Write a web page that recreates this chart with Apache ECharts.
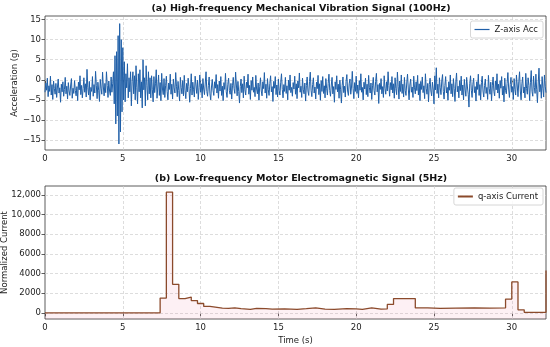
<!DOCTYPE html>
<html><head><meta charset="utf-8">
<script src="https://cdn.jsdelivr.net/npm/echarts@6/dist/echarts.min.js"></script>
<style>html,body{margin:0;padding:0;background:#fff}#c{width:550px;height:347px}</style>
</head><body><div id="c"></div>
<script>
const vibStep = 0.05;
const vibValues = [
-3.1,-0.8,-2.6,0.4,-4.2,-1.5,-2.9,0.9,-3.8,-1.2,-4.9,-0.3,-2.2,-3.6,-0.9,-4.4,-1.8,0.2,-3.3,-2.0,
-5.6,-1.1,-3.0,-0.5,-4.1,-2.4,0.6,-3.5,-1.6,-4.8,-0.7,-2.8,-3.9,-1.3,0.3,-4.6,-2.1,-3.4,-0.2,-2.7,
-4.0,-1.7,-5.2,-0.6,-2.5,1.0,-3.7,-1.4,-4.5,-2.2,0.5,-3.1,-1.0,-4.3,2.6,-2.0,-3.8,-0.4,-5.0,-1.9,
-2.9,0.8,-4.1,-1.2,-3.3,2.1,-1.5,-4.7,-0.6,-2.6,-5.4,0.1,-2.1,-3.6,1.9,-1.8,-4.0,-0.9,-3.2,2.0,
-1.4,-4.4,-0.3,-2.8,-3.9,0.7,-3.1,-1.0,2.0,-6.0,6.0,-11.0,7.0,-9.0,11.0,-16.0,14.0,-13.0,10.0,-8.0,
8.0,-5.0,4.5,-5.5,1.5,-2.0,4.0,-4.5,0.5,-3.0,2.0,-6.5,-0.5,2.0,-3.5,1.0,-5.0,3.5,-2.0,-6.0,
1.5,-3.0,2.5,-4.5,-0.5,-7.0,5.0,-2.5,0.5,-6.5,3.5,-1.5,-5.0,2.0,-3.5,0.5,-4.5,1.0,-2.5,-5.5,
0.8,-3.2,-1.0,2.5,-4.6,-1.8,1.2,-3.9,-0.7,-5.2,1.6,-2.3,-3.7,0.3,-4.4,-1.5,0.9,-2.9,-5.0,-0.8,
-2.4,1.4,-3.6,-1.1,-4.8,0.2,-2.0,-3.3,1.8,-1.6,-4.2,-0.4,-2.7,-5.3,0.6,-1.9,-3.5,-0.2,-4.0,1.1,
-2.6,-4.7,-0.9,-3.0,0.4,-1.7,-5.6,-2.2,1.5,-3.8,-0.6,-2.5,-4.3,0.9,-1.3,-3.4,-0.1,-4.9,-2.0,1.2,
-3.1,-1.0,-4.5,0.3,-2.3,-3.7,-0.8,2.0,-2.9,-4.1,-1.4,0.7,-3.5,-5.0,-1.8,0.1,-2.6,-3.9,-0.5,-2.1,
1.3,-3.3,-1.2,-4.6,-0.3,-2.8,0.8,-3.9,-1.6,-5.2,-0.7,-2.4,1.6,-3.0,-4.4,-1.1,0.4,-2.7,-3.6,-0.9,
-4.8,-1.5,0.6,-2.2,-3.4,1.9,-1.3,-4.0,-0.4,-2.9,-5.8,-1.7,0.2,-3.2,-1.0,-4.5,0.9,-2.5,-3.8,-0.6,
-2.0,1.4,-3.6,-1.4,-4.9,-0.2,-2.6,0.7,-3.1,-1.9,-4.2,1.1,-2.3,-3.5,-0.8,-5.1,-1.6,0.5,-2.8,-4.0,
-0.5,-2.2,1.8,-3.3,-1.1,-4.6,0.3,-2.5,-3.9,-0.9,1.0,-3.0,-1.7,-5.4,-0.4,-2.1,0.8,-3.7,-1.3,-4.3,
0.2,-2.7,-3.8,-0.6,1.5,-2.4,-4.5,-1.2,-2.9,0.6,-3.4,-1.5,-5.0,-0.1,-2.6,1.2,-3.2,-1.9,-4.1,-0.7,
-2.3,0.9,-3.6,-1.0,-4.7,-0.3,-2.0,1.7,-3.1,-1.6,-4.4,0.4,-2.5,-3.5,-0.8,-5.3,-1.4,0.7,-2.8,-3.9,
-0.4,1.9,-2.6,-4.2,-1.2,0.5,-3.3,-1.8,-4.8,-0.6,-2.2,1.1,-3.7,-1.0,-5.1,-0.2,-2.9,0.8,-3.4,-1.5,
-4.5,0.3,-2.1,-3.8,-0.9,1.4,-2.7,-4.1,-1.3,0.6,-3.5,-1.7,-5.6,-0.5,-2.4,1.0,-3.0,-1.1,-4.6,-0.1,
-2.5,-5.8,-1.4,0.7,-3.2,-1.6,-4.3,-0.4,1.3,-2.8,-3.9,-1.0,0.2,-3.6,-1.8,2.1,-2.2,-4.7,-0.7,-2.9,
0.9,-3.4,-1.3,-4.5,-0.2,-2.6,1.5,-3.1,-1.9,-5.0,-0.6,-2.3,0.4,-3.7,-1.1,-4.2,1.1,-2.0,-3.3,-0.8,
-4.9,-1.5,0.6,-2.7,-3.8,-0.4,1.6,-3.0,-1.2,-5.9,-0.9,-2.4,0.3,-3.5,-1.7,-4.4,1.0,-2.1,-3.6,-0.5,
-2.8,2.0,-1.4,-4.1,-0.7,-2.5,0.8,-3.3,-1.0,-4.6,0.5,-2.2,-3.7,1.9,-1.6,-4.8,-0.3,-2.9,1.2,-3.4,
-1.1,-4.3,0.6,-2.6,-3.9,-0.8,1.4,-2.3,-5.0,-1.3,0.2,-3.1,-1.8,-4.4,0.9,-2.0,-3.5,-0.5,-2.7,1.1,
-3.8,-1.0,-5.2,-0.4,-2.4,0.7,-3.2,-1.5,-4.7,1.5,-2.1,-3.6,-0.9,-5.5,-1.2,0.4,-2.8,-4.0,-0.6,-2.3,
-6.0,1.0,-2.5,3.0,-3.4,-1.1,-4.5,0.5,-2.0,-3.7,-0.3,1.3,-2.9,-4.8,-1.4,0.8,-3.3,-1.9,-5.1,-0.5,
-2.6,1.2,-3.5,-1.0,-4.2,0.3,-2.2,-5.4,-0.8,1.7,-3.0,-1.6,-4.5,-0.2,-2.7,0.9,-3.8,-1.3,-5.0,0.1,
-2.3,-4.1,0.6,-1.8,-3.6,-6.8,-0.9,1.0,-2.6,-4.4,-1.1,0.4,-3.2,-1.7,-5.3,-0.5,-2.4,1.4,-3.9,-1.2,
-5.0,-0.7,0.9,-2.8,-4.3,-1.4,0.2,-3.4,-1.9,-4.9,1.1,-2.2,-3.6,-0.6,-5.2,-1.5,0.7,-2.9,-4.0,-0.3,
-2.5,1.5,-3.3,-1.1,-4.6,-0.2,-2.1,0.8,-3.8,-1.6,-5.5,0.4,-2.7,-3.5,-0.9,1.8,-2.3,-4.4,-1.2,0.6,
-3.1,-1.7,-4.9,0.3,-2.4,-3.8,1.2,-1.3,-4.2,-0.5,2.0,-2.8,-5.0,-1.0,0.7,-3.3,-1.8,-4.5,1.6,-2.2,
-3.6,0.5,-1.4,-5.2,-0.6,2.3,-2.9,-4.1,0.9,-1.9,-3.4,1.4,-2.5,-5.7,-0.8,2.9,-3.0,-1.2,-4.6,0.8,
-2.1,-4.3,1.2,-1.6,-3.2
];

// ---- bottom panel: q-axis current, step levels (start time s, value) ----
const currentTimes  = [0, 7.4, 7.8, 8.2, 8.6, 9.0, 9.4, 9.8, 10.2, 10.6, 11.4, 11.8, 12.2, 12.6, 13.2, 13.6, 14.2, 14.6, 15.4, 16.2, 16.8, 17.4, 18.0, 18.6, 19.4, 20.0, 20.4, 21.0, 21.6, 22.0, 22.4, 23.8, 24.6, 25.4, 26.4, 27.6, 28.6, 29.6, 30.0, 30.4, 30.8, 32.2];
const currentValues = [0, 1500, 12300, 2900, 1450, 1600, 1250, 950, 650, 480, 450, 500, 420, 350, 450, 420, 380, 400, 350, 420, 500, 380, 350, 420, 400, 350, 500, 380, 400, 850, 1450, 500, 450, 480, 500, 480, 500, 1400, 3150, 300, 50, 4300];

// ---- ticks ----
const timeTicks = [0, 5, 10, 15, 20, 25, 30];
const accTicks = [-15, -10, -5, 0, 5, 10, 15];
const currentTicks = [0, 2000, 4000, 6000, 8000, 10000, 12000];

const FONT = 'DejaVu Sans';
const minus = v => (v < 0 ? '\u2212' + Math.abs(v) : String(v));
const fmtCurrent = v => (v >= 10000 ? v.toLocaleString('en-US') : String(v));

const gridLine = (xs, ys) => ({
  silent: true, symbol: ['none', 'none'], z: 1, animation: false,
  label: { show: false },
  lineStyle: { color: '#cfcfcf', type: [3, 2], width: 0.7 },
  data: xs.map(v => ({ xAxis: v })).concat(ys.map(v => ({ yAxis: v })))
});

const vibData = vibValues.map((v, i) => [+(i * vibStep).toFixed(2), v]);
const curData = currentTimes.map((t, i) => [t, currentValues[i]]);

const axisCommonX = (idx, showName) => ({
  type: 'value', gridIndex: idx, min: 0, max: 32.2,
  axisLine: { show: false },
  axisTick: { show: true, length: 3.5, lineStyle: { color: '#333', width: 0.8 }, customValues: timeTicks },
  axisLabel: { customValues: timeTicks, fontFamily: FONT, fontSize: 8.5, color: '#222', margin: 4 },
  splitLine: { show: false },
  name: showName ? 'Time (s)' : '', nameLocation: 'middle', nameGap: 17,
  nameTextStyle: { fontFamily: FONT, fontSize: 8.5, color: '#222' }
});

const chart = echarts.init(document.getElementById('c'), null, { renderer: 'canvas' });
chart.setOption({
  animation: false,
  backgroundColor: '#fff',
  title: [
    { text: '(a) High-frequency Mechanical Vibration Signal (100Hz)', left: 296, top: -1, textAlign: 'center',
      textStyle: { fontFamily: FONT, fontSize: 9.5, fontWeight: 'bold', color: '#111' } },
    { text: '(b) Low-frequency Motor Electromagnetic Signal (5Hz)', left: 296, top: 169, textAlign: 'center',
      textStyle: { fontFamily: FONT, fontSize: 9.5, fontWeight: 'bold', color: '#111' } }
  ],
  legend: [
    { data: ['Z-axis Acc'], right: 7, top: 21, orient: 'vertical', icon: 'rect', itemWidth: 15, itemHeight: 1.2,
      itemGap: 4, padding: [4, 5, 4, 4], borderColor: '#ccc', borderWidth: 0.8, borderRadius: 2, backgroundColor: 'rgba(255,255,255,0.85)',
      textStyle: { fontFamily: FONT, fontSize: 8.5, color: '#222' } },
    { data: ['q-axis Current'], right: 7, top: 188, orient: 'vertical', icon: 'rect', itemWidth: 15, itemHeight: 2,
      itemGap: 4, padding: [4, 5, 4, 4], borderColor: '#ccc', borderWidth: 0.8, borderRadius: 2, backgroundColor: 'rgba(255,255,255,0.85)',
      textStyle: { fontFamily: FONT, fontSize: 8.5, color: '#222' } }
  ],
  grid: [
    { left: 45, right: 4, top: 16, height: 134, show: true, borderColor: '#333', borderWidth: 0.8, backgroundColor: 'transparent',
      containLabel: false, outerBoundsMode: 'none' },
    { left: 45, right: 4, top: 186, height: 133, show: true, borderColor: '#333', borderWidth: 0.8, backgroundColor: 'transparent',
      containLabel: false, outerBoundsMode: 'none' }
  ],
  xAxis: [axisCommonX(0, false), axisCommonX(1, true)],
  yAxis: [
    { type: 'value', gridIndex: 0, min: -17.5, max: 15.9,
      axisLine: { show: false },
      axisTick: { show: true, length: 3.5, lineStyle: { color: '#333', width: 0.8 }, customValues: accTicks },
      axisLabel: { customValues: accTicks, formatter: minus, fontFamily: FONT, fontSize: 8.5, color: '#222', margin: 4 },
      splitLine: { show: false },
      name: 'Acceleration (g)', nameLocation: 'middle', nameGap: 26, nameMoveOverlap: false,
      nameTextStyle: { fontFamily: FONT, fontSize: 8.5, color: '#222' } },
    { type: 'value', gridIndex: 1, min: -630, max: 12920,
      axisLine: { show: false },
      axisTick: { show: true, length: 3.5, lineStyle: { color: '#333', width: 0.8 }, customValues: currentTicks },
      axisLabel: { customValues: currentTicks, formatter: fmtCurrent, fontFamily: FONT, fontSize: 8.5, color: '#222', margin: 4 },
      splitLine: { show: false },
      name: 'Normalized Current', nameLocation: 'middle', nameGap: 36, nameMoveOverlap: false,
      nameTextStyle: { fontFamily: FONT, fontSize: 8.5, color: '#222' } }
  ],
  series: [
    { name: 'Z-axis Acc', type: 'line', xAxisIndex: 0, yAxisIndex: 0, data: vibData,
      showSymbol: false, symbol: 'none', sampling: false, color: '#1f5fa8',
      lineStyle: { width: 1, color: '#1f5fa8' },
      markLine: gridLine(timeTicks.slice(1), accTicks) },
    { name: 'q-axis Current', type: 'line', xAxisIndex: 1, yAxisIndex: 1, data: curData, step: 'end',
      showSymbol: false, symbol: 'none', color: '#8b4a2b',
      lineStyle: { width: 1.3, color: '#8b4a2b' },
      areaStyle: { origin: 'start', color: 'rgba(231,84,128,0.12)' },
      markLine: gridLine(timeTicks.slice(1), currentTicks) }
  ]
});
</script>
</body></html>
